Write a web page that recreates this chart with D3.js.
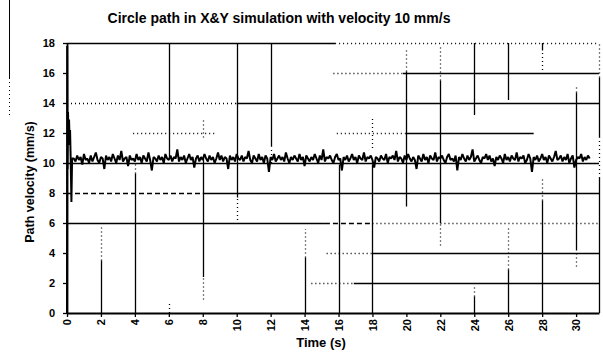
<!DOCTYPE html>
<html>
<head>
<meta charset="utf-8">
<script src="https://cdn.jsdelivr.net/npm/d3@7"></script>
<style>
  body { margin: 0; background: #fff; }
  svg { display: block; font-family: "Liberation Sans", Arial, sans-serif; }
</style>
</head>
<body>
<div id="chart"></div>
<script>
const chartTitle = 'Circle path in X&Y simulation with velocity 10 mm/s';
const xLabel = 'Time (s)';
const yLabel = 'Path velocity (mm/s)';

const xTicks = [0, 2, 4, 6, 8, 10, 12, 14, 16, 18, 20, 22, 24, 26, 28, 30];
const yTicks = [0, 2, 4, 6, 8, 10, 12, 14, 16, 18];
const xDomain = [0, 31.35];
const yDomain = [0, 18];

// start-up transient, explicit times
const startTimes = [0, 0.01, 0.03, 0.06, 0.09, 0.12, 0.15, 0.18, 0.22, 0.26, 0.3];
const startVelocity = [0, 17.8, 9.6, 13.4, 11.2, 12.9, 11.6, 12.2, 10.1, 7.4, 10.3];

// steady part, sampled every 0.1 s from 0.4 s
const steadyStart = 0.4;
const steadyStep = 0.1;
const steadyVelocity = [
  10.3,10.1,10.5,10.2,10.4,9.9,10.6,10.2,10.3,10.0,10.5,10.1,10.4,10.7,10.2,10.0,10.4,10.3,9.6,10.5,
  10.2,10.4,10.1,10.6,10.3,10.0,10.5,10.2,10.8,10.1,10.3,10.4,9.8,10.5,10.2,10.3,10.1,10.6,10.2,10.4,
  10.0,10.5,10.3,10.1,10.7,10.2,9.5,10.4,10.3,10.1,10.5,10.2,10.4,10.0,10.6,10.3,10.2,10.5,10.1,10.4,
  10.3,10.9,10.1,10.4,10.2,10.5,10.0,10.3,10.6,10.2,10.4,9.7,10.3,10.5,10.1,10.4,10.2,10.6,10.3,10.1,
  10.5,10.2,10.4,10.0,10.3,10.7,10.2,10.5,10.1,10.4,10.3,9.6,10.5,10.2,10.4,10.1,10.6,10.3,10.2,10.5,
  10.1,10.4,10.3,10.8,10.2,10.0,10.5,10.3,10.1,10.6,10.2,10.4,10.0,10.5,10.3,9.4,10.4,10.2,10.6,10.1,
  10.3,10.5,10.2,10.4,10.1,10.7,10.3,10.0,10.4,10.2,10.5,10.3,10.1,10.6,10.2,10.4,9.8,10.5,10.3,10.1,
  10.4,10.2,10.6,10.3,10.0,10.5,10.2,10.9,10.1,10.4,10.3,10.5,10.2,10.0,10.4,10.6,10.2,10.3,9.5,10.4,
  10.2,10.5,10.1,10.3,10.6,10.2,10.4,10.0,10.5,10.3,10.2,10.7,10.1,10.4,10.3,10.5,10.2,9.7,10.4,10.3,
  10.1,10.5,10.3,10.2,10.6,10.0,10.4,10.3,10.5,10.2,10.8,10.1,10.4,10.3,10.0,10.5,10.2,10.6,10.3,10.1,
  10.4,10.2,9.6,10.5,10.3,10.1,10.6,10.2,10.4,10.0,10.5,10.3,10.2,10.7,10.1,10.4,10.3,10.5,10.2,10.0,
  10.4,10.6,10.2,10.3,10.1,10.5,9.5,10.4,10.2,10.6,10.3,10.1,10.5,10.2,10.4,10.9,10.1,10.3,10.5,10.2,
  10.0,10.4,10.3,10.6,10.2,10.5,10.1,10.3,9.8,10.4,10.2,10.5,10.3,10.0,10.6,10.2,10.4,10.1,10.5,10.3,
  10.2,10.7,10.1,10.4,10.3,10.5,10.0,10.2,10.6,10.3,9.4,10.4,10.2,10.5,10.1,10.3,10.6,10.2,10.4,10.0,
  10.5,10.3,10.1,10.4,10.8,10.2,10.3,10.5,10.1,10.4,10.2,10.6,10.0,10.3,10.5,9.7,10.2,10.4,10.3,10.6,
  10.1,10.4,10.2,10.5,10.3
];

// gridlines as they survive in the scan: [value, from, to] in data units
const vGridSolid = [
  [2, 0, 3.5], [4, 0, 9.3], [6, 10.3, 18], [8, 2.4, 10.3], [10, 7.7, 18], [12, 11.1, 18],
  [14, 0, 3.7], [16, 0, 9.9], [18, 0, 9.9], [20, 7.1, 16.1], [22, 6, 15.5],
  [24, 13.2, 18], [24, 0, 1.1], [26, 14.2, 18], [26, 0, 2.9], [28, 17.5, 18], [28, 0, 7.5],
  [30, 4.2, 14.7], [31.35, 0, 9], [31.35, 11.7, 15.7]
];
const vGridDotted = [
  [2, 3.5, 5.7], [4, 9.3, 10.1], [6, 0, 0.8], [8, 0.9, 2.4], [8, 11.7, 12.9], [10, 6.2, 7.7],
  [12, 10, 11.1], [14, 3.7, 5.6], [18, 11, 13], [20, 16.1, 17.5], [22, 4.5, 6], [22, 15.5, 17.7],
  [24, 1.1, 1.9], [26, 2.9, 5.8], [28, 16.2, 17.5], [28, 7.5, 8.9], [30, 3.1, 4.2],
  [30, 14.7, 15.1], [31.35, 9, 11.7], [31.35, 15.7, 18]
];
const hGridSolid = [
  [18, 0, 15.8], [16, 19.8, 31.35], [14, 10, 31.35], [12, 20, 27.5], [10, 0, 31.35],
  [8, 8, 31.35], [6, 0, 15.2], [4, 18, 31.35], [2, 16.9, 31.35]
];
const hGridDashed = [[8, 0, 8], [6, 15.2, 18]];
const hGridDotted = [
  [18, 15.8, 31.35], [16, 15.7, 19.8], [14, 0, 10], [12, 3.9, 8.8], [12, 15.9, 20],
  [6, 18, 31.35], [4, 15.3, 18], [2, 14.4, 16.9]
];

const width = 603, height = 353;
const margin = { top: 43, right: 4, bottom: 40, left: 67 };

const x = d3.scaleLinear().domain(xDomain).range([margin.left, width - margin.right]);
const y = d3.scaleLinear().domain(yDomain).range([height - margin.bottom, margin.top]);

const svg = d3.select('#chart').append('svg')
  .attr('width', width)
  .attr('height', height);

svg.append('rect').attr('width', width).attr('height', height).attr('fill', '#fff');

// scan edge mark on the left
svg.append('line').attr('x1', 9.5).attr('x2', 9.5).attr('y1', 0).attr('y2', 78)
  .attr('stroke', '#000').attr('stroke-width', 1);
svg.append('line').attr('x1', 9.5).attr('x2', 9.5).attr('y1', 78).attr('y2', 118)
  .attr('stroke', '#000').attr('stroke-width', 1).attr('stroke-dasharray', '1,3');

// gridlines
const grid = svg.append('g').attr('stroke', '#000').attr('stroke-width', 1.3);

function drawV(data, dash) {
  grid.append('g').selectAll('line').data(data).join('line')
    .attr('x1', d => Math.round(x(d[0])) + 0.5).attr('x2', d => Math.round(x(d[0])) + 0.5)
    .attr('y1', d => y(d[1])).attr('y2', d => y(d[2]))
    .attr('stroke-dasharray', dash);
}
function drawH(data, dash) {
  grid.append('g').selectAll('line').data(data).join('line')
    .attr('y1', d => Math.round(y(d[0])) + 0.5).attr('y2', d => Math.round(y(d[0])) + 0.5)
    .attr('x1', d => x(d[1])).attr('x2', d => x(d[2]))
    .attr('stroke-dasharray', dash);
}
drawV(vGridSolid, null);
drawV(vGridDotted, '1,3');
drawH(hGridSolid, null);
drawH(hGridDashed, '5,3');
drawH(hGridDotted, '1,3');

// velocity trace
const points = startTimes.map((t, i) => [t, startVelocity[i]])
  .concat(steadyVelocity.map((v, i) => [steadyStart + i * steadyStep, v]));

const line = d3.line().x(d => x(d[0])).y(d => y(d[1]));
svg.append('path')
  .datum(points)
  .attr('d', line)
  .attr('fill', 'none')
  .attr('stroke', '#000')
  .attr('stroke-width', 2)
  .attr('stroke-linejoin', 'bevel');

// axes
const xAxisG = svg.append('g')
  .attr('transform', `translate(0,${height - margin.bottom})`)
  .call(d3.axisBottom(x).tickValues(xTicks).tickSize(4).tickSizeOuter(0));
xAxisG.selectAll('text')
  .attr('y', 0).attr('x', -6).attr('dy', '0.35em')
  .attr('transform', 'rotate(-90)')
  .style('text-anchor', 'end');

const yAxisG = svg.append('g')
  .attr('transform', `translate(${margin.left},0)`)
  .call(d3.axisLeft(y).tickValues(yTicks).tickSize(4).tickPadding(8).tickSizeOuter(0));

[xAxisG, yAxisG].forEach(g => {
  g.select('.domain').attr('stroke', '#000').attr('stroke-width', 1.8);
  g.selectAll('.tick line').attr('stroke', '#000').attr('stroke-width', 1.3);
  g.selectAll('text')
    .attr('fill', '#000')
    .style('font-size', '11px')
    .style('font-weight', 'bold')
    .style('font-family', '"Liberation Sans", Arial, sans-serif');
});

// titles
svg.append('text')
  .attr('x', 279).attr('y', 23)
  .attr('text-anchor', 'middle')
  .style('font-size', '14px').style('font-weight', 'bold')
  .text(chartTitle);

svg.append('text')
  .attr('x', 321).attr('y', 347)
  .attr('text-anchor', 'middle')
  .style('font-size', '13px').style('font-weight', 'bold')
  .text(xLabel);

svg.append('text')
  .attr('transform', 'translate(34,182) rotate(-90)')
  .attr('text-anchor', 'middle')
  .style('font-size', '12.5px').style('font-weight', 'bold')
  .text(yLabel);
</script>
</body>
</html>
